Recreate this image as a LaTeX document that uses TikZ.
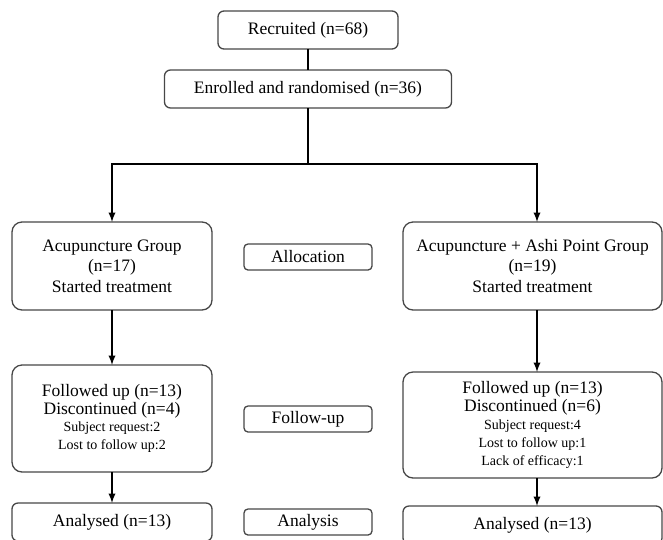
\documentclass[tikz,border=0pt]{standalone}
\usepackage{fontspec}
\setmainfont{Liberation Serif}
\usetikzlibrary{arrows, positioning, calc}

\begin{document}
\begin{tikzpicture}[x=1pt,y=-1pt,every node/.style={outer sep=0pt,inner sep=0pt,align=center}]
\tikzstyle{box}=[draw=black!72,line width=1.3pt,rounded corners=10pt,font=\fontsize{17.5}{17.8}\selectfont]
\tikzstyle{smallbox}=[box,rounded corners=6pt,minimum height=38pt]
\tikzstyle{stage}=[draw=black!72,line width=1.3pt,rounded corners=4pt,minimum width=128pt,minimum height=26pt,font=\fontsize{17.5}{17.5}\selectfont]
\tikzstyle{conn}=[line width=2.2pt]
\tikzstyle{flow}=[conn,-latex]
\newcommand{\sm}{\fontsize{14}{17}\selectfont}

\useasboundingbox (0,0) rectangle (663,539);
\clip (0,0) rectangle (663,539);

\node (rec) [smallbox,minimum width=180pt] at (308,30) {Recruited (n=68)};
\node (enr) [smallbox,minimum width=287pt,below=21pt of rec] {Enrolled and randomised (n=36)};

\node (grpA) [box,minimum width=200pt,minimum height=88pt,font=\fontsize{17.5}{20.5}\selectfont] at (112,266) {Acupuncture Group\\(n=17)\\Started treatment};
\node (grpB) [box,minimum width=259pt,minimum height=88pt,font=\fontsize{17.5}{20.5}\selectfont] at (532.5,266) {Acupuncture + Ashi Point Group\\(n=19)\\Started treatment};
\node (alloc) [stage] at (308,257) {Allocation};

\node (fuA) [box,minimum width=200pt,minimum height=107pt,below=55pt of grpA] {Followed up (n=13)\\Discontinued (n=4)\\{\sm Subject request:2}\\{\sm Lost to follow up:2}};
\node (fuB) [box,minimum width=259pt,minimum height=106pt,below=62pt of grpB] {Followed up (n=13)\\Discontinued (n=6)\\{\sm Subject request:4}\\{\sm Lost to follow up:1}\\{\sm Lack of efficacy:1}};
\node (follow) [stage] at (308,419) {Follow-up};

\node (anA) [smallbox,minimum width=200pt,below=31pt of fuA] {Analysed (n=13)};
\node (anB) [smallbox,minimum width=259pt,below=28pt of fuB] {Analysed (n=13)};
\node (analysis) [stage] at (308,522) {Analysis};

\coordinate (jl) at (112,164);
\coordinate (jr) at (537,164);

\draw [conn] (rec.south) -- (rec.south |- enr.north);
\draw [flow] (enr.south) |- (jl) -- (grpA.north);
\draw [flow] (enr.south) |- (jr) -- (jr |- grpB.north);
\draw [flow] (grpA) -- (fuA);
\draw [flow] (grpB.south -| jr) -- (fuB.north -| jr);
\draw [flow] (fuA) -- (anA);
\draw [flow] (fuB.south -| jr) -- (anB.north -| jr);
\end{tikzpicture}
\end{document}
